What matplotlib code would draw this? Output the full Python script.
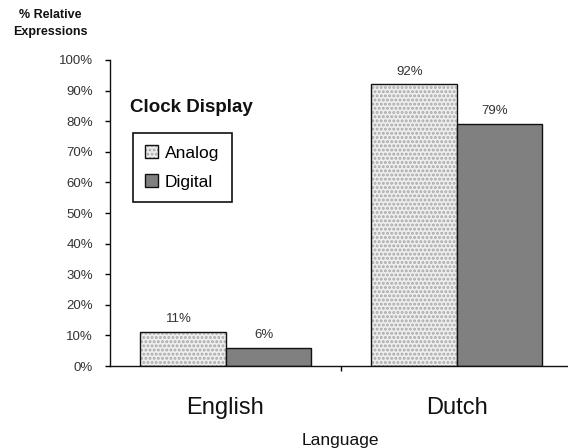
import matplotlib
matplotlib.use('Agg')
import matplotlib.pyplot as plt
from matplotlib.patches import Patch
import numpy as np

plt.rcParams['font.family'] = ['Liberation Sans', 'DejaVu Sans']
plt.rcParams['hatch.linewidth'] = 1.4

languages = ['English', 'Dutch']
analog = [11, 92]
digital = [6, 79]
y_ticks = list(range(0, 101, 10))
y_labels = [f'{t}%' for t in y_ticks]

fig = plt.figure(figsize=(5.68, 4.48), dpi=100)
ax = fig.add_axes([110 / 568, 82 / 448, 462 / 568, 306 / 448])

x = np.arange(len(languages))
w = 0.37

# analog: dotted light fill, then a black outline on top
ax.bar(x - w / 2, analog, w, color='#eeeeee', edgecolor='#a8a8a8',
       hatch='....', linewidth=0)
ax.bar(x - w / 2, analog, w, fill=False, edgecolor='#111111', linewidth=1.0)
ax.bar(x + w / 2, digital, w, color='#808080', edgecolor='#111111', linewidth=1.0)

for xi, v in zip(x - w / 2, analog):
    ax.annotate(f'{v}%', (xi, v), xytext=(-3, 5), textcoords='offset points',
                ha='center', va='bottom', fontsize=9.5, color='#333333')
for xi, v in zip(x + w / 2, digital):
    ax.annotate(f'{v}%', (xi, v), xytext=(-3, 5), textcoords='offset points',
                ha='center', va='bottom', fontsize=9.5, color='#333333')

ax.set_xlim(-0.5, 1.5)
ax.set_ylim(0, 100)
ax.set_yticks(y_ticks)
ax.set_yticklabels(y_labels)
ax.tick_params(axis='y', direction='out', length=3.6, width=1.0, pad=8.5,
               labelsize=9.5, labelcolor='#333333')
ax.set_xticks([0.5])
ax.set_xticklabels([''])
ax.tick_params(axis='x', direction='out', length=3.6, width=1.0)
for s in ['top', 'right']:
    ax.spines[s].set_visible(False)
for s in ['left', 'bottom']:
    ax.spines[s].set_linewidth(1.0)
    ax.spines[s].set_color('#111111')

for xi, name in zip(x, languages):
    ax.text(xi, -0.157, name, transform=ax.get_xaxis_transform(),
            ha='center', va='baseline', fontsize=17, color='#111111')

fig.text(340 / 568, 1 - 445 / 448, 'Language', ha='center', va='baseline',
         fontsize=12.5, color='#111111')
fig.text(50 / 568, 1 - 18.5 / 448, '% Relative', ha='center', va='baseline',
         fontsize=9, fontweight='bold', color='#111111')
fig.text(50 / 568, 1 - 35.5 / 448, 'Expressions', ha='center', va='baseline',
         fontsize=9, fontweight='bold', color='#111111')
fig.text(130 / 568, 1 - 111.5 / 448, 'Clock Display', ha='left', va='baseline',
         fontsize=13.5, fontweight='bold', color='#111111')

h_analog = (Patch(facecolor='#eeeeee', edgecolor='#a8a8a8', hatch='....', linewidth=0),
            Patch(fill=False, edgecolor='#111111', linewidth=1.0))
h_digital = Patch(facecolor='#808080', edgecolor='#111111', linewidth=1.0)
leg = ax.legend([h_analog, h_digital], ['Analog', 'Digital'],
                loc='upper left', bbox_to_anchor=(23 / 462, 233 / 306),
                borderaxespad=0, fancybox=False, framealpha=1,
                edgecolor='#111111', fontsize=12.5, handlelength=0.75,
                handleheight=0.75, handletextpad=0.4, labelspacing=0.8,
                borderpad=0.7)
leg.get_frame().set_linewidth(1.2)

fig.savefig('out.png', dpi=100)
